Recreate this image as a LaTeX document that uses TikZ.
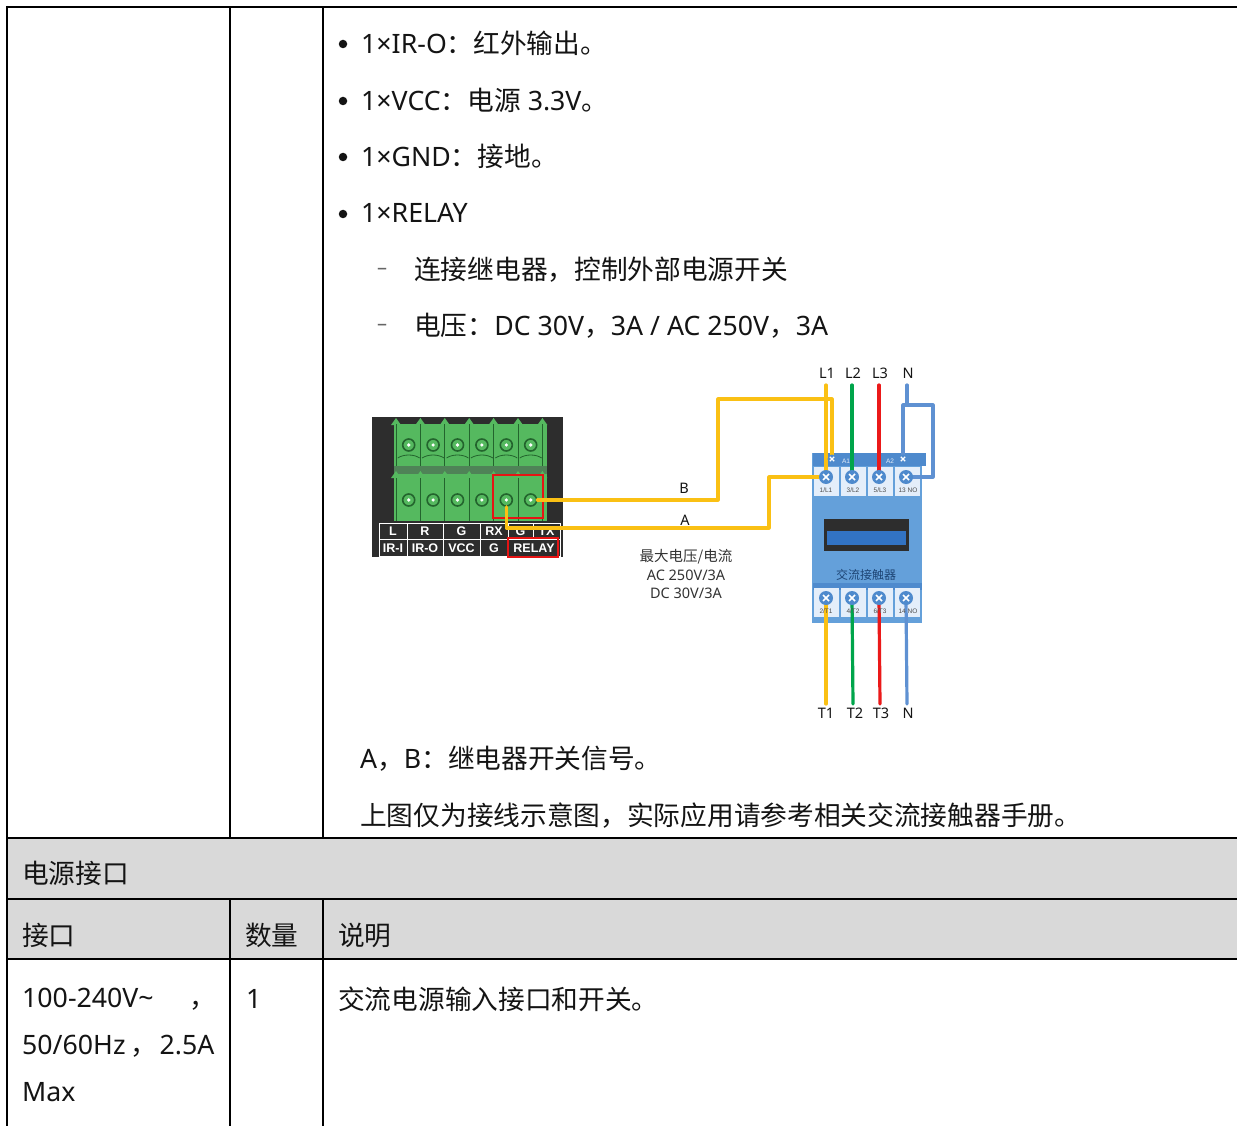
\documentclass[tikz,border=0pt]{standalone}
\usepackage{fontspec}
\setmainfont{Noto Sans}
\newfontfamily\cjk{Noto Sans CJK SC}
\newfontfamily\arialf{Liberation Sans}
\usetikzlibrary{calc}
\definecolor{hdrgray}{RGB}{217,217,217}
\definecolor{txt}{RGB}{20,20,20}
\definecolor{wyel}{RGB}{250,192,20}
\definecolor{wgrn}{RGB}{0,165,75}
\definecolor{wred}{RGB}{235,25,25}
\definecolor{wblu}{RGB}{95,145,210}
\definecolor{cbody}{RGB}{100,160,218}
\definecolor{cband}{RGB}{78,138,205}
\definecolor{cterm}{RGB}{228,238,250}
\definecolor{cbar}{RGB}{50,115,195}
\definecolor{tgreen}{RGB}{85,185,95}
\definecolor{tdark}{RGB}{35,100,45}
\definecolor{blk}{RGB}{45,45,45}
\definecolor{redbox}{RGB}{230,20,20}
\tikzset{
  tline/.style={line width=2pt, black},
  body/.style={anchor=west, inner sep=0pt, text=txt, font=\fontsize{26.7}{30}\selectfont},
  bul/.style={circle, fill=txt, inner sep=0pt, minimum size=8.5pt},
  dsh/.style={anchor=center, inner sep=0pt, text=black!60, font=\fontsize{20}{24}\selectfont},
  wire/.style={line width=3.2pt, line cap=round, line join=round},
  wlab/.style={inner sep=0pt, text=txt, font=\fontsize{14.5}{16}\selectfont},
  note/.style={inner sep=0pt, text=black!80, font=\fontsize{14.5}{16}\selectfont},
  plab/.style={inner sep=0pt, text=white, font=\arialf\bfseries\fontsize{12.5}{13}\selectfont},
  tlab/.style={inner sep=0pt, text=black!70, font=\arialf\fontsize{6.5}{7}\selectfont},
  screw/.style={circle, fill=cband, inner sep=0pt, minimum size=14pt},
  pin/.style={circle, draw=tdark, line width=1.6pt, fill=tgreen, inner sep=0pt, minimum size=12pt},
}
\begin{document}
\begin{tikzpicture}[x=1pt, y=-1pt]
\useasboundingbox (0,0) rectangle (1237,1126);
\fill[white] (0,0) rectangle (1237,1126);
% ---------- table ----------
\fill[hdrgray] (7,838) rectangle (1237,959);
\draw[tline] (7,7) -- (1237,7);
\draw[tline] (7,6) -- (7,1126);
\draw[tline] (230,7) -- (230,838);
\draw[tline] (323,7) -- (323,838);
\draw[tline] (230,899) -- (230,1126);
\draw[tline] (323,899) -- (323,1126);
\draw[tline] (7,838) -- (1237,838);
\draw[tline] (7,899) -- (1237,899);
\draw[tline] (7,959) -- (1237,959);
% ---------- bullet text ----------
\node[bul] (d1) at (343,44) {};
\node[body] (b1) at (361,43) {1×IR-O{\cjk ：红外输出。}};
\node[bul] (d2) at (343,101) {};
\node[body] (b2) at (361,100) {1×VCC{\cjk ：电源} 3.3V{\cjk 。}};
\node[bul] (d3) at (343,157) {};
\node[body] (b3) at (361,156) {1×GND{\cjk ：接地。}};
\node[bul] (d4) at (343,214) {};
\node[body] (b4) at (361,213) {1×RELAY};
\node[dsh] (s1) at (382,271) {–};
\node[body] (b5) at (414,270) {\cjk 连接继电器，控制外部电源开关};
\node[dsh] (s2) at (382,327) {–};
\node[body] (b6) at (414,326) {{\cjk 电压：}DC 30V{\cjk ，}3A / AC 250V{\cjk ，}3A};
\node[body] (b7) at (360,759) {A{\cjk ，}B{\cjk ：继电器开关信号。}};
\node[body] (b8) at (360,816) {\cjk 上图仅为接线示意图，实际应用请参考相关交流接触器手册。};
\node[body] (h1) at (22,873) {\cjk 电源接口};
\node[body] (h2) at (22,935) {\cjk 接口};
\node[body] (h3) at (245,935) {\cjk 数量};
\node[body] (h4) at (338,935) {\cjk 说明};
\node[body] (r1) at (22,999) {100-240V\textasciitilde\hspace{36pt}{\cjk ，}};
\node[body] (r2) at (22,1046) {50/60Hz\,{\cjk ，}\hspace{3pt}2.5A};
\node[body] (r3) at (22,1092) {Max};
\node[body] (r4) at (246,999) {1};
\node[body] (r5) at (338,999) {\cjk 交流电源输入接口和开关。};
% ---------- terminal block ----------
\fill[blk] (372,417) rectangle (563,557);
\fill[tgreen] (394,424) rectangle (547,521);
\fill[tdark!80] (394,466) rectangle (547,474);
\foreach \i in {0,...,6}{
  \pgfmathsetmacro{\sx}{396+24.4*\i}
  \fill[tgreen] (\sx-5,425) -- (\sx,418) -- (\sx+5,425) -- cycle;
  \fill[tgreen] (\sx-5,478) -- (\sx,471) -- (\sx+5,478) -- cycle;
  \draw[tdark, line width=1pt] (\sx,424) -- (\sx,466);
  \draw[tdark, line width=1pt] (\sx,478) -- (\sx,521);
}
\foreach \i in {0,...,5}{
  \pgfmathsetmacro{\cx}{408.7+24.4*\i}
  \draw[tdark, line width=0.8pt] (\cx-11,458) .. controls (\cx-5,454) and (\cx+5,454) .. (\cx+11,458);
}
\foreach \i/\nm in {0/p1,1/p2,2/p3,3/p4,4/p5,5/p6}{
  \node[pin] (t\nm) at (408.7+24.4*\i,445) {};
  \fill[white] (t\nm) circle (1.8);
  \node[pin] (b\nm) at (408.7+24.4*\i,500) {};
  \fill[white] (b\nm) circle (1.8);
}
% label grid
\fill[blk] (378,522) rectangle (561,557);
\draw[white, line width=0.9pt] (379,523) rectangle (560,556);
\draw[white, line width=0.9pt] (379,539.5) -- (560,539.5);
\foreach \x in {407,443,480}{\draw[white, line width=0.9pt] (\x,523) -- (\x,556);}
\draw[white, line width=0.9pt] (508,523) -- (508,556);
\draw[white, line width=0.9pt] (533,523) -- (533,539.5);
\node[plab] (lL) at (393,531.5) {L};
\node[plab] (lR) at (425,531.5) {R};
\node[plab] (lG) at (461.5,531.5) {G};
\node[plab] (lRX) at (494,531.5) {RX};
\node[plab] (lG2) at (520.5,531.5) {G};
\node[plab] (lTX) at (546.5,531.5) {TX};
\node[plab] (lIRI) at (393,548) {IR-I};
\node[plab] (lIRO) at (425,548) {IR-O};
\node[plab] (lVCC) at (461.5,548) {VCC};
\node[plab] (lGG) at (494,548) {G};
\node[plab] (lREL) at (534,548) {RELAY};
\draw[redbox, line width=2.4pt] (493,475) rectangle (543,518);
\draw[redbox, line width=2.4pt] (508,538) rectangle (558,557);
% ---------- contactor ----------
\fill[cbody] (812,453) rectangle (922,623);
\fill[cband] (813,453) rectangle (926,466);
\fill[cband] (813,583) rectangle (922,590);
\foreach \x in {813,840,867,894}{
  \fill[cterm] (\x+1,467) rectangle (\x+26,496);
  \fill[cterm] (\x+1,588) rectangle (\x+26,617);
}
\fill[blk] (824,519) rectangle (909,551);
\fill[cbar] (827,531) rectangle (906,545);
\node[inner sep=0pt, text=cbar!60!black, font=\cjk\fontsize{12}{14}\selectfont] (ctitle) at (866,575) {交流接触器};
\node[inner sep=0pt, text=white!85!cband, font=\arialf\fontsize{6.5}{7}\selectfont] (a1l) at (846,461) {A1};
\node[inner sep=0pt, text=white!85!cband, font=\arialf\fontsize{6.5}{7}\selectfont] (a2l) at (890,461) {A2};
% terminal coordinates
\coordinate (A1) at (832,459);
\coordinate (A2) at (903,459);
\foreach \x/\n in {826/1,852/2,879/3,906/4}{
  \coordinate (u\n) at (\x,477);
  \coordinate (d\n) at (\x,598);
}
% wire labels
\node[wlab] (L1) at (827,373) {L1};
\node[wlab] (L2) at (853,373) {L2};
\node[wlab] (L3) at (880,373) {L3};
\node[wlab] (Nt) at (908,373) {N};
\node[wlab] (T1) at (826,713) {T1};
\node[wlab] (T2) at (855,713) {T2};
\node[wlab] (T3) at (881,713) {T3};
\node[wlab] (Nb) at (908,713) {N};
\coordinate (L1s) at (826,385);
\coordinate (L2s) at (852,385);
\coordinate (L3s) at (879,385);
\coordinate (Ns) at (907,385);
\coordinate (T1e) at (826,704);
\coordinate (T2e) at (853,704);
\coordinate (T3e) at (880,704);
\coordinate (Ne) at (907,704);
% wires
\draw[wire, wyel] (L1s) -- (u1);
\draw[wire, wgrn] (L2s) -- (u2);
\draw[wire, wred] (L3s) -- (u3);
\coordinate (Nj) at (907,405);
\coordinate (Nr) at (933,405);
\draw[wire, wblu] (Ns) -- (Nj);
\draw[wire, wblu, line cap=butt] (A2) |- (Nr) |- (u4);
\draw[wire, wyel] (d1) -- (T1e);
\draw[wire, wgrn] (d2) -- (T2e);
\draw[wire, wred] (d3) -- (T3e);
\draw[wire, wblu] (d4) -- (Ne);
% A / B relay wires
\coordinate (Bup) at (718,399);
\coordinate (Adn) at (769,528);
\draw[wire, wyel] (bp6) -| (Bup) -| (A1);
\draw[wire, wyel] (bp5) |- (Adn) |- (u1);
\node[wlab] (Blab) at (684,488) {B};
\node[wlab] (Alab) at (685,520) {A};
\node[note, font=\cjk\fontsize{14.5}{16}\selectfont] (n1) at (686,557) {最大电压/电流};
\node[note] (n2) at (686,575) {AC 250V/3A};
\node[note] (n3) at (686,593) {DC 30V/3A};
% screws
\foreach \n in {1,2,3,4}{
  \node[screw] (su\n) at (u\n) {};
  \draw[white, line width=1.6pt] ($(u\n)+(-3,-3)$) -- ($(u\n)+(3,3)$) ($(u\n)+(-3,3)$) -- ($(u\n)+(3,-3)$);
  \node[screw] (sd\n) at (d\n) {};
  \draw[white, line width=1.6pt] ($(d\n)+(-3,-3)$) -- ($(d\n)+(3,3)$) ($(d\n)+(-3,3)$) -- ($(d\n)+(3,-3)$);
}
\foreach \c in {A1,A2}{
  \node[circle, fill=cband, inner sep=0pt, minimum size=9pt] (s\c) at (\c) {};
  \draw[white, line width=1.3pt] ($(\c)+(-2.2,-2.2)$) -- ($(\c)+(2.2,2.2)$) ($(\c)+(-2.2,2.2)$) -- ($(\c)+(2.2,-2.2)$);
}
\node[tlab] (q1) at (826,490) {1/L1};
\node[tlab] (q2) at (853,490) {3/L2};
\node[tlab] (q3) at (880,490) {5/L3};
\node[tlab] (q4) at (908,490) {13 NO};
\node[tlab] (q5) at (826,611) {2/T1};
\node[tlab] (q6) at (853,611) {4/T2};
\node[tlab] (q7) at (880,611) {6/T3};
\node[tlab] (q8) at (908,611) {14 NO};
\end{tikzpicture}
\end{document}
